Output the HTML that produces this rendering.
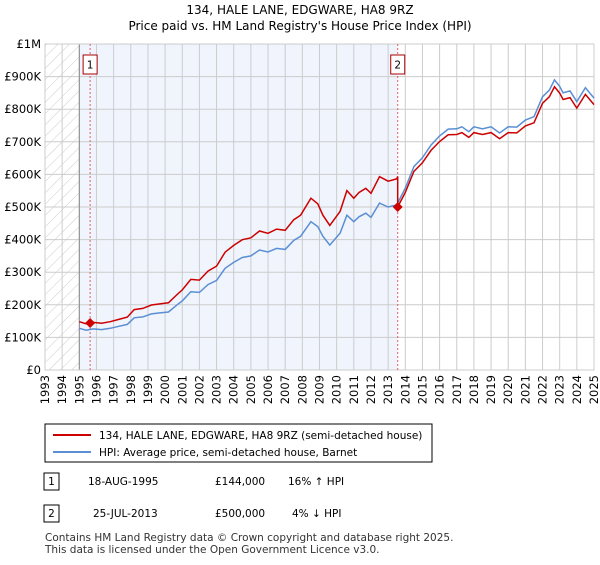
<!DOCTYPE html>
<html><head><meta charset="utf-8"><style>
body{margin:0;background:#fff;font-family:"Liberation Sans","DejaVu Sans",sans-serif;}
svg text{font-family:"DejaVu Sans","Liberation Sans",sans-serif;}
</style></head><body>
<svg id="chart" width="600" height="560" viewBox="0 0 600 560" xmlns="http://www.w3.org/2000/svg">
<defs><pattern id="hatch" width="8" height="8" patternUnits="userSpaceOnUse" patternTransform="rotate(45)"><line x1="0" y1="0" x2="0" y2="8" stroke="#ccc" stroke-width="1"/></pattern></defs>
<text x="300" y="14" text-anchor="middle" font-size="12" fill="#000">134, HALE LANE, EDGWARE, HA8 9RZ</text>
<text x="300" y="30" text-anchor="middle" font-size="12" fill="#000">Price paid vs. HM Land Registry's House Price Index (HPI)</text>
<g id="plot"></g>
<g>
<rect x="45" y="424" width="387" height="38" fill="#fff" stroke="#000" stroke-width="1"/>
<line x1="53" y1="435" x2="91" y2="435" stroke="#cc0000" stroke-width="2"/>
<text x="99" y="439" font-size="10.5">134, HALE LANE, EDGWARE, HA8 9RZ (semi-detached house)</text>
<line x1="53" y1="452" x2="91" y2="452" stroke="#5b8fd4" stroke-width="2"/>
<text x="99" y="456" font-size="10.5">HPI: Average price, semi-detached house, Barnet</text>
</g>
<g font-size="10.5">
<rect x="44" y="473" width="15" height="17" fill="#fff" stroke="#000"/><text x="51.5" y="485" text-anchor="middle">1</text>
<text x="88" y="485">18-AUG-1995</text><text x="215" y="485">£144,000</text><text x="288" y="485">16% ↑ HPI</text>
<rect x="44" y="505" width="15" height="17" fill="#fff" stroke="#000"/><text x="51.5" y="517" text-anchor="middle">2</text>
<text x="93" y="517">25-JUL-2013</text><text x="215" y="517">£500,000</text><text x="292" y="517">4% ↓ HPI</text>
</g>
<text x="45" y="541" font-size="10.5" fill="#333">Contains HM Land Registry data © Crown copyright and database right 2025.</text>
<text x="45" y="553" font-size="10.5" fill="#333">This data is licensed under the Open Government Licence v3.0.</text>
</svg>
<script>
const hpiYears=[1995.0,1995.4,1995.8,1996.3,1996.8,1997.3,1997.8,1998.2,1998.7,1999.2,1999.7,2000.2,2000.7,2001.0,2001.5,2002.0,2002.5,2003.0,2003.5,2004.0,2004.5,2005.0,2005.5,2006.0,2006.5,2007.0,2007.5,2007.9,2008.5,2008.9,2009.2,2009.6,2010.2,2010.6,2011.0,2011.3,2011.7,2012.0,2012.5,2013.0,2013.5,2014.0,2014.5,2015.0,2015.5,2016.0,2016.5,2017.0,2017.3,2017.7,2018.0,2018.5,2019.0,2019.5,2020.0,2020.5,2021.0,2021.5,2022.0,2022.4,2022.7,2023.0,2023.2,2023.6,2024.0,2024.5,2025.0];
const hpiValues=[128,122,126,124,128,134,140,160,163,172,175,178,200,212,240,238,262,275,312,330,345,350,368,362,373,370,398,410,455,440,410,383,420,475,455,470,481,468,512,500,506,558,624,651,690,718,739,740,746,731,746,740,746,727,746,745,767,777,838,859,890,870,850,856,823,866,834];
const saleYears=[1995.63,2013.56];
const salePrices=[144,500];
const yTicks=[0,100,200,300,400,500,600,700,800,900,1000];
const yTickLabels=["£0","£100K","£200K","£300K","£400K","£500K","£600K","£700K","£800K","£900K","£1M"];
const xTicks=[1993,1994,1995,1996,1997,1998,1999,2000,2001,2002,2003,2004,2005,2006,2007,2008,2009,2010,2011,2012,2013,2014,2015,2016,2017,2018,2019,2020,2021,2022,2023,2024,2025];

const X0=45,X1=594,Y0=370,Y1=44;
const xs=y=>X0+(y-1993)/(2025-1993)*(X1-X0);
const ys=v=>Y0-v/1000*(Y0-Y1);
const NS="http://www.w3.org/2000/svg";
const g=document.getElementById('plot');
function mk(t,a){const e=document.createElementNS(NS,t);for(const k in a)e.setAttribute(k,a[k]);g.appendChild(e);return e;}
function hpiAt(y){for(let i=1;i<hpiYears.length;i++){if(y<=hpiYears[i]){const t=(y-hpiYears[i-1])/(hpiYears[i]-hpiYears[i-1]);return hpiValues[i-1]+t*(hpiValues[i]-hpiValues[i-1]);}}return hpiValues[hpiValues.length-1];}

let e=mk('rect',{x:X0,y:Y1,width:X1-X0,height:Y0-Y1,fill:'#fff'});


e=mk('rect',{x:xs(1993),y:Y1,width:xs(1995)-xs(1993),height:Y0-Y1,fill:'url(#hatch)'});


e=mk('rect',{x:xs(1995),y:Y1,width:xs(saleYears[1])-xs(1995),height:Y0-Y1,fill:'#f0f4fd'});


yTicks.forEach((v,i)=>{
 e=mk('line',{x1:X0,x2:X1,y1:ys(v),y2:ys(v),stroke:'#ccc','stroke-width':1});
 
 
 e=mk('text',{x:X0-4,y:ys(v)+4,'text-anchor':'end','font-size':11.5});
 e.textContent=yTickLabels[i];
 
 
});
xTicks.forEach(y=>{
 e=mk('line',{x1:xs(y),x2:xs(y),y1:Y1,y2:Y0,stroke:'#ccc','stroke-width':1});
 
 
 e=mk('text',{x:0,y:0,'text-anchor':'end','font-size':11.5,transform:`translate(${xs(y)+4},${Y0+5}) rotate(-90)`});
 e.textContent=y;
 
 
});
e=mk('line',{x1:xs(1995),x2:xs(1995),y1:Y1,y2:Y0,stroke:'#888','stroke-width':1});


e=mk('rect',{x:X0,y:Y1,width:X1-X0,height:Y0-Y1,fill:'none',stroke:'#ccc'});


saleYears.forEach((s,i)=>{
 e=mk('line',{x1:xs(s),x2:xs(s),y1:Y1,y2:Y0,stroke:'#e06060','stroke-width':1,'stroke-dasharray':'2,2'});
 
 
 e=mk('rect',{x:xs(s)-7,y:55,width:14,height:19,fill:'#fff',stroke:'#aa0000'});
 
 
 e=mk('text',{x:xs(s),y:68.5,'text-anchor':'middle','font-size':10.5});
 e.textContent=String(i+1);
 
 
});
// HPI line
e=mk('path',{d:hpiYears.map((y,i)=>(i?'L':'M')+xs(y).toFixed(1)+','+ys(hpiValues[i]).toFixed(1)).join(''),fill:'none',stroke:'#5b8fd4','stroke-width':1.5});


// property line: HPI scaled from most recent sale
const r1=salePrices[0]/hpiAt(saleYears[0]), r2=salePrices[1]/hpiAt(saleYears[1]);
let pts=[];
hpiYears.forEach((y,i)=>{
 if(y<saleYears[1]) pts.push([y,hpiValues[i]*r1]);
});
pts.push([saleYears[1],hpiAt(saleYears[1])*r1]);
pts.push([saleYears[1],salePrices[1]]);
hpiYears.forEach((y,i)=>{ if(y>saleYears[1]) pts.push([y,hpiValues[i]*r2]); });
e=mk('path',{d:pts.map((p,i)=>(i?'L':'M')+xs(p[0]).toFixed(1)+','+ys(p[1]).toFixed(1)).join(''),fill:'none',stroke:'#cc0000','stroke-width':1.5});


saleYears.forEach((s,i)=>{
 const cx=xs(s),cy=ys(salePrices[i]);
 e=mk('path',{d:`M${cx},${cy-5}L${cx+5},${cy}L${cx},${cy+5}L${cx-5},${cy}Z`,fill:'#cc0000'});
 
 
});
</script>
</body></html>
